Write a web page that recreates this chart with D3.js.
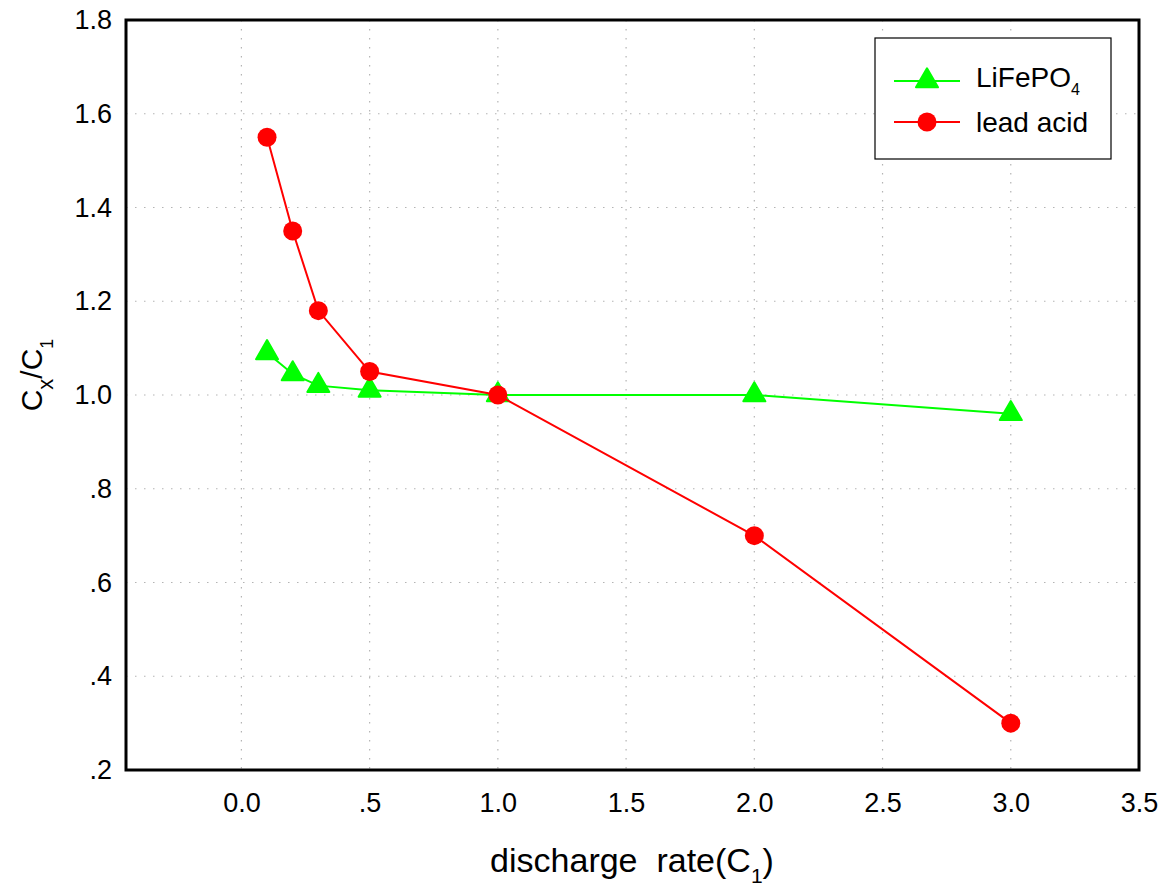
<!DOCTYPE html>
<html>
<head>
<meta charset="utf-8">
<title>Cx/C1 vs discharge rate</title>
<script src="https://cdn.jsdelivr.net/npm/d3@7"></script>
<style>
  body { margin: 0; background: #fff; }
  text { font-family: "Liberation Sans", Arial, Helvetica, sans-serif; fill: #000; }
</style>
</head>
<body>
<script>
  // data
  var rates = [0.1, 0.2, 0.3, 0.5, 1.0, 2.0, 3.0];
  var lifepo4 = [1.09, 1.045, 1.02, 1.01, 1.0, 1.0, 0.96];
  var leadAcid = [1.55, 1.35, 1.18, 1.05, 1.0, 0.70, 0.30];
  var xTicks = [0, 0.5, 1.0, 1.5, 2.0, 2.5, 3.0, 3.5];
  var yTicks = [0.2, 0.4, 0.6, 0.8, 1.0, 1.2, 1.4, 1.6, 1.8];

  var W = 1166, H = 887;
  var m = { left: 126, right: 1139, top: 20, bottom: 770 };

  var x = d3.scaleLinear().domain([-0.45, 3.5]).range([m.left, m.right]);
  var y = d3.scaleLinear().domain([0.2, 1.8]).range([m.bottom, m.top]);

  // labels like ".5" and "0.0"
  function fmt(v) {
    var s = d3.format(".1f")(v);
    if (v > 0 && v < 1) s = s.substring(1);
    return s;
  }

  var svg = d3.select("body").append("svg")
      .attr("width", W)
      .attr("height", H);

  // dotted grid
  var grid = svg.append("g").attr("stroke", "#b4b4b4").attr("stroke-width", 1.2)
      .attr("stroke-dasharray", "1.5,7.5");
  grid.selectAll(".gx").data(xTicks.filter(function(d){ return d < 3.5; }))
    .enter().append("line")
      .attr("x1", function(d){ return x(d); })
      .attr("x2", function(d){ return x(d); })
      .attr("y1", m.top).attr("y2", m.bottom);
  grid.selectAll(".gy").data(yTicks.filter(function(d){ return d > 0.2 && d < 1.8; }))
    .enter().append("line")
      .attr("y1", function(d){ return y(d); })
      .attr("y2", function(d){ return y(d); })
      .attr("x1", m.left).attr("x2", m.right);

  // axes (labels only, no tick marks)
  var xAxis = svg.append("g")
      .attr("transform", "translate(0," + m.bottom + ")")
      .call(d3.axisBottom(x).tickValues(xTicks).tickFormat(fmt).tickSize(0).tickPadding(23));
  var yAxis = svg.append("g")
      .attr("transform", "translate(" + m.left + ",0)")
      .call(d3.axisLeft(y).tickValues(yTicks).tickFormat(fmt).tickSize(0).tickPadding(14));
  [xAxis, yAxis].forEach(function(a) {
    a.select(".domain").remove();
    a.selectAll("text").attr("font-size", 27).attr("font-family", null).attr("fill", "#000");
  });

  // series
  var series = [
    { name: "LiFePO4", values: lifepo4, color: "#00ff00", marker: "triangle" },
    { name: "lead acid", values: leadAcid, color: "#ff0000", marker: "circle" }
  ];
  var line = d3.line()
      .x(function(d){ return x(d[0]); })
      .y(function(d){ return y(d[1]); });
  var triangle = d3.symbol().type(d3.symbolTriangle).size(210);

  function drawMarker(g, s) {
    if (s.marker === "circle") {
      g.append("circle").attr("r", 9.5).attr("fill", s.color);
    } else {
      g.append("path").attr("d", triangle).attr("fill", s.color)
        .attr("stroke", s.color).attr("stroke-width", 2).attr("stroke-linejoin", "round");
    }
  }

  series.forEach(function(s) {
    var pts = rates.map(function(r, i){ return [r, s.values[i]]; });
    svg.append("path")
      .datum(pts)
      .attr("d", line)
      .attr("fill", "none")
      .attr("stroke", s.color)
      .attr("stroke-width", 2);
    svg.selectAll(null).data(pts).enter().append("g")
      .attr("transform", function(d){ return "translate(" + x(d[0]) + "," + y(d[1]) + ")"; })
      .each(function() { drawMarker(d3.select(this), s); });
  });

  // frame
  svg.append("rect")
    .attr("x", m.left).attr("y", m.top)
    .attr("width", m.right - m.left).attr("height", m.bottom - m.top)
    .attr("fill", "none").attr("stroke", "#000").attr("stroke-width", 3);

  // legend
  var lg = svg.append("g");
  lg.append("rect")
    .attr("x", 875).attr("y", 38).attr("width", 236).attr("height", 121)
    .attr("fill", "#fff").attr("stroke", "#000").attr("stroke-width", 1.2);
  series.forEach(function(s, i) {
    var ly = 81 + i * 41;
    lg.append("line").attr("x1", 894).attr("x2", 960).attr("y1", ly).attr("y2", ly)
      .attr("stroke", s.color).attr("stroke-width", 2);
    drawMarker(lg.append("g").attr("transform", "translate(927," + ly + ")"), s);
    var t = lg.append("text").attr("x", 976).attr("font-size", 28);
    if (s.name === "LiFePO4") {
      t.attr("y", ly + 6);
      t.append("tspan").text("LiFePO");
      t.append("tspan").attr("font-size", 16).attr("dy", 8).text("4");
    } else {
      t.attr("y", ly + 10).text(s.name);
    }
  });

  // axis titles
  var xt = svg.append("text")
    .attr("x", 632).attr("y", 872)
    .attr("text-anchor", "middle")
    .attr("font-size", 34)
    .attr("xml:space", "preserve");
  xt.append("tspan").text("discharge  rate(C");
  xt.append("tspan").attr("font-size", 21).attr("dy", 11).text("1");
  xt.append("tspan").attr("dy", -11).text(")");

  var yt = svg.append("text")
    .attr("transform", "translate(42,375) rotate(-90)")
    .attr("text-anchor", "middle")
    .attr("font-size", 30);
  yt.append("tspan").text("C");
  yt.append("tspan").attr("font-size", 22).attr("dy", 11).text("x");
  yt.append("tspan").attr("dy", -11).text("/C");
  yt.append("tspan").attr("font-size", 18).attr("dy", 11).text("1");
</script>
</body>
</html>
